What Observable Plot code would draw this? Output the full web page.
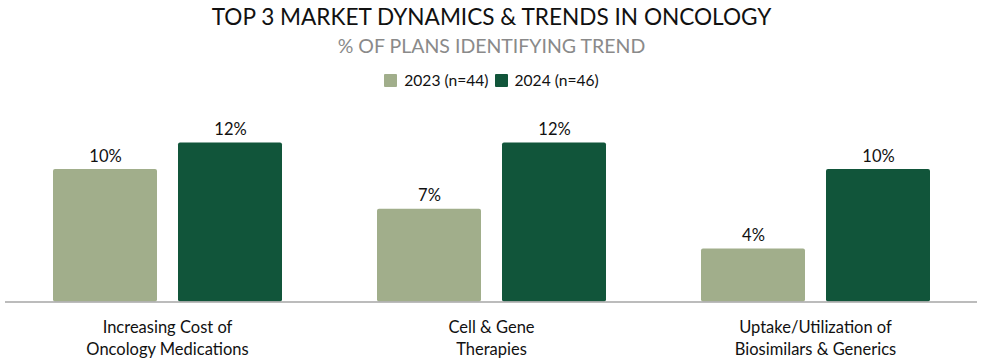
<!DOCTYPE html>
<html>
<head>
<meta charset="utf-8">
<script src="https://cdn.jsdelivr.net/npm/d3@7"></script>
<script src="https://cdn.jsdelivr.net/npm/@observablehq/plot@0.6"></script>
<style>
  html, body { margin: 0; padding: 0; background: #fff; }
  body { width: 983px; height: 360px; overflow: hidden; font-family: Lato, "Open Sans", sans-serif; }
  #title { position: absolute; top: 2px; left: 0; width: 983px; text-align: center; font-size: 22.6px; color: #111; line-height: 30px; }
  #subtitle { position: absolute; top: 33px; left: 0; width: 983px; text-align: center; font-size: 19.5px; color: #8a8a8a; line-height: 26px; }
  #legend { position: absolute; top: 69px; left: 0; width: 983px; display: flex; justify-content: center; gap: 2px; font-size: 15.6px; color: #111; line-height: 22px; }
  .item { display: flex; align-items: center; margin: 0 2px; }
  .sw { width: 13px; height: 13px; margin-right: 7px; border-radius: 1px; }
  #chart { position: absolute; top: 95px; left: 0; }
</style>
</head>
<body>
<div id="title"></div>
<div id="subtitle"></div>
<div id="legend"></div>
<div id="chart"></div>
<script>
const categories = ["Increasing Cost of\nOncology Medications", "Cell & Gene\nTherapies", "Uptake/Utilization of\nBiosimilars & Generics"];
const series = ["2023 (n=44)", "2024 (n=46)"];
const values2023 = [10, 7, 4];
const values2024 = [12, 12, 10];
const colors = ["#a1ae8b", "#11553a"];
const titleText = "TOP 3 MARKET DYNAMICS & TRENDS IN ONCOLOGY";
const subtitleText = "% OF PLANS IDENTIFYING TREND";

document.getElementById("title").textContent = titleText;
document.getElementById("subtitle").textContent = subtitleText;
const legend = document.getElementById("legend");
series.forEach((s, i) => {
  const it = document.createElement("div");
  it.className = "item";
  const sw = document.createElement("div");
  sw.className = "sw";
  sw.style.background = colors[i];
  it.appendChild(sw);
  const t = document.createElement("span");
  t.textContent = s;
  it.appendChild(t);
  legend.appendChild(it);
});

const data = [];
categories.forEach((c, i) => {
  data.push({category: c, series: series[0], value: values2023[i]});
  data.push({category: c, series: series[1], value: values2024[i]});
});

const chart = Plot.plot({
  width: 983,
  height: 265,
  marginLeft: 5,
  marginRight: 6,
  marginTop: 47.5,
  marginBottom: 58.5,
  style: {fontFamily: "Lato, 'Open Sans', sans-serif", fontSize: "16px", color: "#111"},
  fx: {domain: categories, padding: 0, label: null},
  x: {domain: series, paddingInner: 0.168, paddingOuter: 0.38, axis: null},
  y: {domain: [0, 12], axis: null},
  color: {domain: series, range: colors},
  marks: [
    Plot.barY(data, {fx: "category", x: "series", y: "value", fill: "series", rx: 2}),
    Plot.text(data, {fx: "category", x: "series", y: "value", text: d => d.value + "%", lineAnchor: "bottom", dy: -8, fontSize: 16.5, fill: "#111"}),
    Plot.ruleY([0], {stroke: "#a6a6a6", strokeWidth: 1.5, facetAnchor: null}),
    Plot.axisFx({anchor: "bottom", tickSize: 0, tickPadding: 16, fontSize: 16.5, lineHeight: 1.3, label: null})
  ]
});
document.getElementById("chart").appendChild(chart);
</script>
</body>
</html>
